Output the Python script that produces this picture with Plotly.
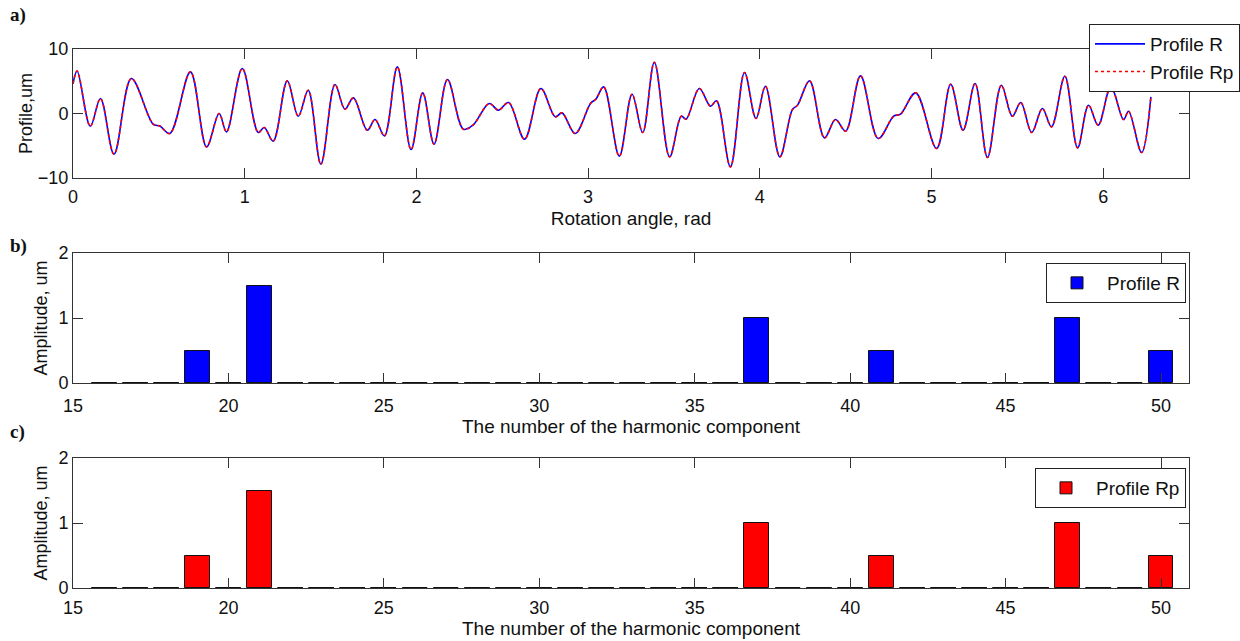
import plotly.graph_objects as go

# Measured profile: rotation angle (rad) and deviation (um), sampled at turning points
angle = [
    0.000, 0.024, 0.101, 0.160, 0.239, 0.340, 0.467, 0.506, 0.564, 0.684,
    0.778, 0.851, 0.894, 0.986, 1.079, 1.114, 1.166, 1.248, 1.312, 1.370,
    1.444, 1.526, 1.584, 1.633, 1.714, 1.759, 1.814, 1.889, 1.969, 2.037,
    2.103, 2.181, 2.274, 2.330, 2.424, 2.478, 2.537, 2.630, 2.725, 2.809,
    2.848, 2.925, 3.015, 3.045, 3.091, 3.182, 3.256, 3.318, 3.386, 3.475,
    3.543, 3.571, 3.648, 3.713, 3.748, 3.829, 3.911, 3.978, 4.033, 4.117,
    4.190, 4.220, 4.290, 4.377, 4.441, 4.500, 4.587, 4.690, 4.780, 4.820,
    4.908, 5.030, 5.112, 5.184, 5.254, 5.326, 5.407, 5.471, 5.520, 5.584,
    5.646, 5.699, 5.777, 5.851, 5.915, 5.971, 6.045, 6.119, 6.148, 6.224,
    6.278,
]
profile_r = [
    4.60, 6.60, -1.97, 2.32, -6.31, 5.42, -1.66, -1.95, -3.10, 6.45,
    -5.17, 0.00, -2.85, 6.97, -2.95, -2.18, -4.29, 5.06, -0.42, 3.61,
    -7.86, 4.49, 0.67, 2.42, -2.59, -0.94, -3.47, 7.23, -5.59, 3.20,
    -4.76, 5.27, -2.43, -1.80, 1.55, 0.51, 1.70, -3.98, 3.87, -0.52,
    0.10, -3.10, 1.60, 2.20, 4.13, -6.62, 2.99, -2.95, 7.95, -6.72,
    -0.42, -0.88, 3.87, 1.13, 1.96, -8.27, 6.35, -0.78, 4.23, -6.72,
    0.60, 1.30, 5.06, -3.78, -0.94, -2.74, 5.83, -3.88, -0.40, -0.10,
    3.20, -5.43, 4.54, -2.59, 4.65, -6.83, 4.39, -0.42, 1.70, -2.95,
    0.77, -2.07, 5.78, -5.33, 1.29, -1.81, 4.13, -0.94, 0.36, -6.05,
    2.58,
]
profile_rp = list(profile_r)

# Harmonic spectra
harmonics = list(range(16, 51))
amp_r = [
    0, 0, 0, 0.5, 0, 1.5, 0, 0, 0, 0,
    0, 0, 0, 0, 0, 0, 0, 0, 0, 0,
    0, 1.0, 0, 0, 0, 0.5, 0, 0, 0, 0,
    0, 1.0, 0, 0, 0.5,
]
amp_rp = [
    0, 0, 0, 0.5, 0, 1.5, 0, 0, 0, 0,
    0, 0, 0, 0, 0, 0, 0, 0, 0, 0,
    0, 1.0, 0, 0, 0, 0.5, 0, 0, 0, 0,
    0, 1.0, 0, 0, 0.5,
]

W, H = 1240, 641
FONT = "Liberation Sans, Arial, sans-serif"
AXC = "#333333"
TXT = "#111111"


def px_x(p):
    return p / W


def px_y(p):
    return 1 - p / H


fig = go.Figure()

fig.add_trace(go.Scatter(
    x=angle, y=profile_r, name="Profile R", mode="lines",
    line=dict(color="#0000ff", width=1.6, shape="spline", smoothing=1.0),
    xaxis="x", yaxis="y", legend="legend",
))
fig.add_trace(go.Scatter(
    x=angle, y=profile_rp, name="Profile Rp", mode="lines",
    line=dict(color="#ff0000", width=1.6, dash="dot", shape="spline", smoothing=1.0),
    xaxis="x", yaxis="y", legend="legend",
))


def add_spectrum(amps, color, name, xa, ya, leg):
    fig.add_trace(go.Bar(
        x=harmonics, y=amps, name=name, width=0.8,
        marker=dict(color=color, line=dict(color="#111111", width=1)),
        xaxis=xa, yaxis=ya, legend=leg,
    ))
    # zero-height bars still show their outline as a short dash on the baseline
    zero_h = [h for h, a in zip(harmonics, amps) if a == 0]
    fig.add_trace(go.Scatter(
        x=zero_h, y=[0] * len(zero_h), mode="markers", showlegend=False,
        marker=dict(symbol="line-ew", size=17.5, line=dict(color="#111111", width=2)),
        cliponaxis=False, hoverinfo="skip", xaxis=xa, yaxis=ya,
    ))


add_spectrum(amp_r, "#0000ff", "Profile R", "x2", "y2", "legend2")
add_spectrum(amp_rp, "#ff0000", "Profile Rp", "x3", "y3", "legend3")

xdom = [px_x(73), px_x(1189)]
common = dict(
    showline=True, linecolor=AXC, linewidth=1, mirror="ticks",
    ticks="inside", ticklen=10, tickcolor=AXC, tickwidth=1,
    showgrid=False, zeroline=False, automargin=False,
    tickfont=dict(family=FONT, size=18, color=TXT),
)
legend_style = dict(
    bgcolor="white", bordercolor="#222222", borderwidth=1,
    font=dict(family=FONT, size=19, color=TXT), itemwidth=50,
)

fig.update_layout(
    width=W, height=H,
    margin=dict(l=0, r=0, t=0, b=0),
    paper_bgcolor="white", plot_bgcolor="white",
    font=dict(family=FONT, color=TXT),
    bargap=0,
    xaxis=dict(domain=xdom, anchor="y", range=[0, 6.5], dtick=1, tick0=0,
               ticklabelstandoff=2,
               title=dict(text="Rotation angle, rad", font=dict(size=19), standoff=6),
               **common),
    yaxis=dict(domain=[px_y(178), px_y(49)], anchor="x", range=[-10, 10], dtick=10,
               title=dict(text="Profile,um", font=dict(size=18), standoff=0),
               **common),
    xaxis2=dict(domain=xdom, anchor="y2", range=[15, 50.9], dtick=5, tick0=15,
                ticklabelstandoff=6,
                title=dict(text="The number of the harmonic component", font=dict(size=19), standoff=4),
                **common),
    yaxis2=dict(domain=[px_y(383), px_y(253)], anchor="x2", range=[0, 2], dtick=1,
                title=dict(text="Amplitude, um", font=dict(size=18), standoff=6),
                **common),
    xaxis3=dict(domain=xdom, anchor="y3", range=[15, 50.9], dtick=5, tick0=15,
                ticklabelstandoff=3,
                title=dict(text="The number of the harmonic component", font=dict(size=19), standoff=3),
                **common),
    yaxis3=dict(domain=[px_y(588), px_y(458)], anchor="x3", range=[0, 2], dtick=1,
                title=dict(text="Amplitude, um", font=dict(size=18), standoff=6),
                **common),
    legend=dict(x=px_x(1089), y=px_y(24), xanchor="left", yanchor="top",
                tracegroupgap=0, **legend_style),
    legend2=dict(x=px_x(1186), y=px_y(263), xanchor="right", yanchor="top",
                 **legend_style),
    legend3=dict(x=px_x(1186), y=px_y(468), xanchor="right", yanchor="top",
                 **legend_style),
)

for label, ypix in (("a)", 15), ("b)", 246), ("c)", 432)):
    fig.add_annotation(
        text="<b>%s</b>" % label, xref="paper", yref="paper",
        x=px_x(8), y=px_y(ypix), xanchor="left", yanchor="middle", showarrow=False,
        font=dict(family="Liberation Serif, Times New Roman, serif", size=19, color=TXT),
    )

fig.write_html("out.html")
